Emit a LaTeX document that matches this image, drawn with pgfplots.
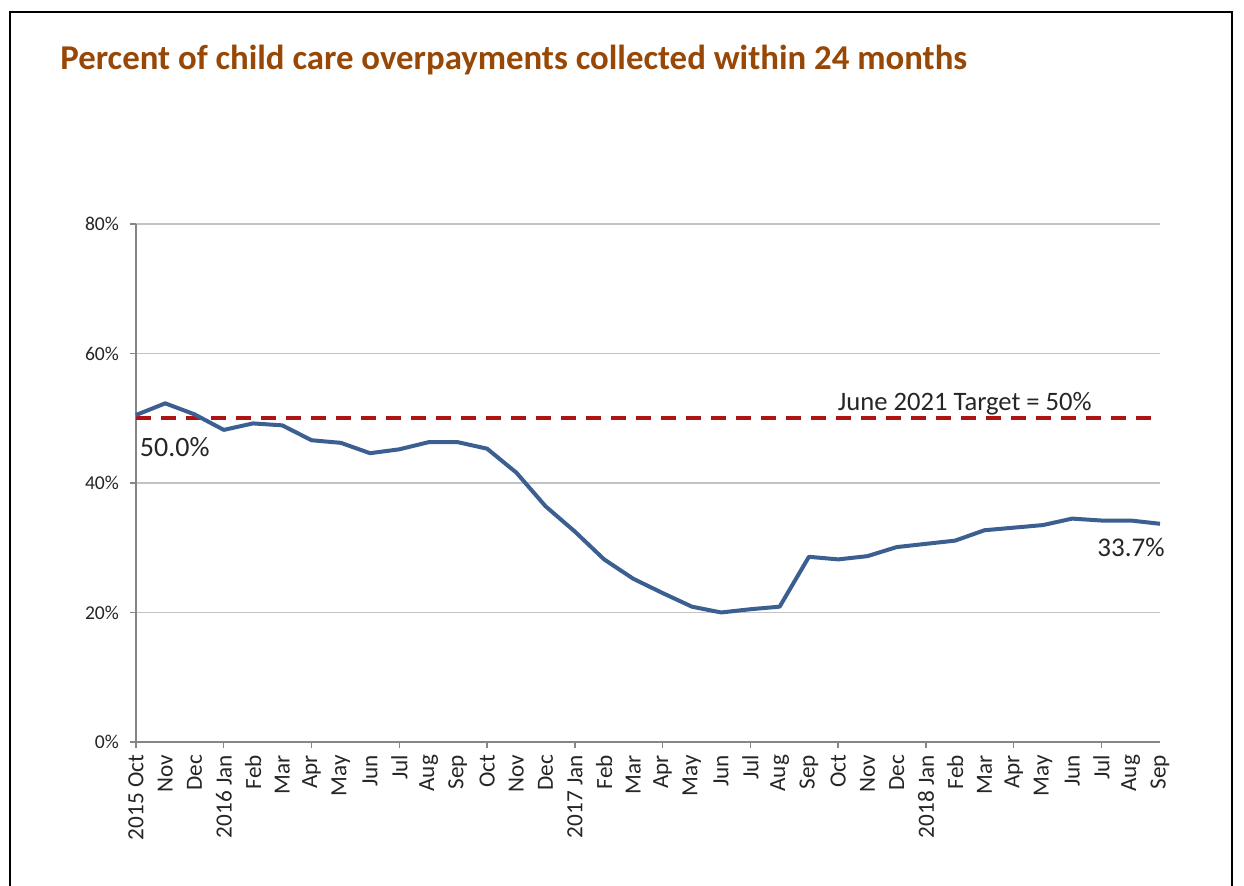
\documentclass[border=0pt]{standalone}
\usepackage{pgfplots}
\pgfplotsset{compat=1.18}
\usepackage{fontspec}
\setmainfont{Carlito}

\definecolor{titlebrown}{RGB}{151,72,6}
\definecolor{lineblue}{RGB}{60,95,145}
\definecolor{targetred}{RGB}{175,20,20}
\definecolor{gridgray}{RGB}{195,195,195}
\definecolor{axisgray}{RGB}{134,134,134}
\definecolor{textgray}{RGB}{38,38,38}

\begin{document}
\begin{tikzpicture}
% page = 1244 x 886 px, 1 px = 0.5pt
\path[use as bounding box, clip] (0,0) rectangle (622pt,443pt);
\fill[white] (0,0) rectangle (622pt,443pt);
\draw[black, line width=1pt] (5pt,-10pt) -- (5pt,437pt) -- (616pt,437pt) -- (616pt,-10pt);
\node[anchor=base west, inner sep=0pt, text=titlebrown,
      font=\fontsize{17.4}{20}\selectfont\bfseries] at (30pt,408pt)
      {Percent of child care overpayments collected within 24 months};

\begin{axis}[
  at={(68pt,72pt)}, anchor=south west,
  scale only axis,
  width=512pt, height=259pt,
  xmin=0, xmax=35,
  ymin=0, ymax=80,
  axis lines*=left,
  axis line style={axisgray, line width=0.8pt},
  ytick={0,20,40,60,80},
  yticklabels={0\%,20\%,40\%,60\%,80\%},
  yticklabel style={font=\fontsize{9.8}{11}\selectfont, text=textgray, xshift=-2pt},
  ymajorgrids=true,
  grid style={gridgray, line width=0.7pt},
  xtick={0,...,35},
  xticklabels={2015 Oct,Nov,Dec,2016 Jan,Feb,Mar,Apr,May,Jun,Jul,Aug,Sep,
               Oct,Nov,Dec,2017 Jan,Feb,Mar,Apr,May,Jun,Jul,Aug,Sep,
               Oct,Nov,Dec,2018 Jan,Feb,Mar,Apr,May,Jun,Jul,Aug,Sep},
  xticklabel style={rotate=90, anchor=east, font=\fontsize{11.6}{13}\selectfont, text=textgray},
  major x tick style={draw=none},
  minor xtick={0,3,...,33},
  tick align=outside,
  major tick length=3pt,
  minor tick length=3pt,
  tick style={axisgray, line width=0.7pt},
  clip=false,
]
\addplot[targetred, line width=2pt, dash pattern=on 7.5pt off 5pt]
  coordinates {(0,50) (35,50)};
\addplot[lineblue, line width=2pt, line join=round]
  coordinates {
    (0,50.5) (1,52.3) (2,50.6) (3,48.2) (4,49.2) (5,48.9)
    (6,46.6) (7,46.2) (8,44.6) (9,45.2) (10,46.3) (11,46.3)
    (12,45.3) (13,41.6) (14,36.4) (15,32.5) (16,28.2) (17,25.2)
    (18,23.0) (19,20.9) (20,20.0) (21,20.5) (22,20.9) (23,28.6)
    (24,28.2) (25,28.7) (26,30.1) (27,30.6) (28,31.1) (29,32.7)
    (30,33.1) (31,33.5) (32,34.5) (33,34.2) (34,34.2) (35,33.7)
  };
\node[anchor=west, inner sep=0pt, text=textgray, font=\fontsize{14}{16}\selectfont]
  at (axis cs:0.12,45.6) {50.0\%};
\node[anchor=east, inner sep=0pt, text=textgray, font=\fontsize{13.5}{16}\selectfont]
  at (axis cs:35.17,30.1) {33.7\%};
\node[inner sep=0pt, text=textgray, font=\fontsize{13.3}{15}\selectfont]
  at (axis cs:28.33,52.2) {June 2021 Target = 50\%};
\end{axis}
\end{tikzpicture}
\end{document}
